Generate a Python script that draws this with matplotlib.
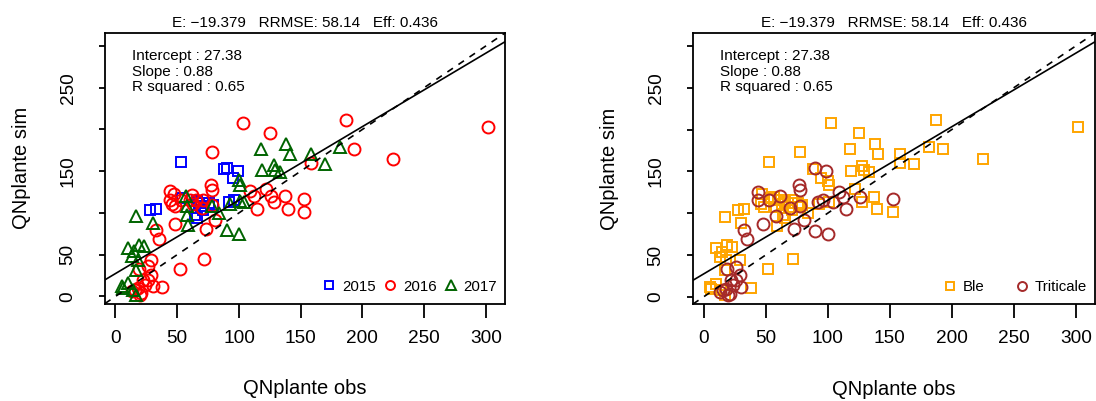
import matplotlib
matplotlib.use("Agg")
import matplotlib.pyplot as plt
from matplotlib.lines import Line2D

plt.rcParams['font.family'] = ['Liberation Sans', 'DejaVu Sans']

# ---------------- data (obs, sim, crop: B = Ble, T = Triticale) ----------------
obs_2015 = [53, 88, 90, 99, 95, 28, 33, 66, 68, 69, 71, 66, 64, 76, 79, 92, 96, 54]
sim_2015 = [161, 153, 154, 150, 142, 104, 105, 114, 112, 108, 104, 94, 98, 112, 110, 113, 116, 118]
crop_2015 = ['B', 'B', 'T', 'T', 'B', 'B', 'B', 'B', 'B', 'B', 'B', 'B', 'B', 'B', 'B', 'T', 'T', 'B']

obs_2016 = [103, 125, 187, 302, 78, 193, 225, 158, 153, 140, 137, 128, 122,
            153, 126, 115, 112, 109, 77, 78, 73, 81, 48, 33, 35,
            44, 47, 44, 46, 48.5, 53, 62, 60, 63, 65, 71,
            72, 52, 38, 29, 26, 70, 78,
            19, 29, 26, 22, 18, 16, 20, 21, 13, 24, 30]
sim_2016 = [208, 196, 211, 203, 173, 177, 165, 160, 101, 105, 120, 113, 129,
            117, 120, 105, 120, 126, 134, 128, 81, 92, 87, 80, 69,
            126, 123, 116, 111, 108, 116, 121, 116, 111, 116, 116,
            45, 33, 11, 44, 36, 106, 109,
            33, 26, 20, 20, 10, 8, 2, 4, 6, 14, 12]
crop_2016 = ['B', 'B', 'B', 'B', 'B', 'B', 'B', 'B', 'B', 'B', 'B', 'B', 'B',
             'T', 'T', 'T', 'T', 'T', 'T', 'T', 'T', 'T', 'T', 'T', 'T',
             'T', 'B', 'T', 'B', 'B', 'T', 'T', 'B', 'B', 'B', 'B',
             'B', 'B', 'B', 'B', 'T', 'T', 'T',
             'T', 'T', 'T', 'T', 'T', 'T', 'T', 'T', 'T', 'T', 'T']

obs_2017 = [118, 138, 141, 158, 182, 170, 119, 128, 129, 133, 100, 101,
            57, 58, 58, 59, 78, 84, 93, 101, 104, 90, 100,
            17, 30, 10, 15, 19, 23, 13, 18, 17, 6, 14, 10, 17, 5]
sim_2017 = [177, 183, 171, 171, 179, 159, 151, 157, 152, 149, 139, 134,
            120, 108, 97, 85, 108, 100, 111, 114, 113, 79, 75,
            96, 88, 58, 54, 62, 60, 48, 44, 32, 10, 8, 16, 2, 12]
crop_2017 = ['B', 'B', 'B', 'B', 'B', 'B', 'B', 'B', 'B', 'B', 'B', 'B',
             'B', 'B', 'T', 'B', 'B', 'B', 'B', 'B', 'T', 'T', 'T',
             'B', 'B', 'B', 'B', 'B', 'B', 'B', 'B', 'B', 'B', 'B', 'B', 'B', 'B']

years = ['2015', '2016', '2017']
crops = ['Ble', 'Triticale']

intercept = 27.38
slope = 0.88
r_squared = 0.65
stats_title = "E: \u221219.379   RRMSE: 58.14   Eff: 0.436"

x_ticks = [0, 50, 100, 150, 200, 250, 300]
y_ticks = [0, 50, 100, 150, 200, 250, 300]
y_ticklabels = ['0', '50', '', '150', '', '250', '']
lims = (-8.5, 315.5)

# ---------------- styling ----------------
year_style = {
    '2015': dict(marker='s', color='#0000FF', ms=7.6),
    '2016': dict(marker='o', color='#FF0000', ms=8.6),
    '2017': dict(marker='^', color='#006400', ms=9.2),
}
crop_style = {
    'Ble': dict(marker='s', color='#FFA500', ms=7.6),
    'Triticale': dict(marker='o', color='#A52A2A', ms=8.6),
}

W, H = 1096, 401
fig = plt.figure(figsize=(W / 100, H / 100), dpi=100)

def ax_rect(l, r, t, b):
    return [l / W, (H - b) / H, (r - l) / W, (b - t) / H]

axL = fig.add_axes(ax_rect(105, 505, 33, 303.5))
axR = fig.add_axes(ax_rect(693, 1095, 33, 304))

data = {
    '2015': (obs_2015, sim_2015, crop_2015),
    '2016': (obs_2016, sim_2016, crop_2016),
    '2017': (obs_2017, sim_2017, crop_2017),
}

# left panel: by year
for y in years:
    o, s, c = data[y]
    st = year_style[y]
    axL.plot(o, s, linestyle='none', marker=st['marker'], ms=st['ms'],
             mfc='none', mec=st['color'], mew=1.4)

# right panel: by crop
for cr in crops:
    code = cr[0]
    o_all, s_all = [], []
    for y in years:
        o, s, c = data[y]
        o_all += [oi for oi, ci in zip(o, c) if ci == code]
        s_all += [si for si, ci in zip(s, c) if ci == code]
    st = crop_style[cr]
    axR.plot(o_all, s_all, linestyle='none', marker=st['marker'], ms=st['ms'],
             mfc='none', mec=st['color'], mew=1.4)

for ax, panel_w in ((axL, 400), (axR, 402)):
    ax.set_xlim(lims)
    ax.set_ylim(lims)
    ax.axline((0, intercept), slope=slope, color='black', lw=1.2)
    ax.axline((0, 0), slope=1, color='black', lw=1.2, linestyle=(0, (4, 4)))
    for sp in ax.spines.values():
        sp.set_linewidth(1.3)
    ax.set_xticks(x_ticks)
    ax.set_xticklabels([str(v) for v in x_ticks])
    ax.set_yticks(y_ticks)
    ax.set_yticklabels(y_ticklabels, rotation=90, va='center')
    ax.tick_params(axis='x', direction='out', length=10, width=1.3, pad=9, labelsize=13.7)
    ax.tick_params(axis='y', direction='out', length=4.5, width=1.3, pad=16, labelsize=13.7)
    ax.set_xlabel('QNplante obs', fontsize=14.5, va='center')
    ax.xaxis.set_label_coords(0.5, (303.5 - 389) / 270.5)
    ax.set_ylabel('QNplante sim', fontsize=14.5, va='center')
    ax.yaxis.set_label_coords((22 - 105) / 400, 0.5)
    ax.text(0.5, 1 + (33 - 22.7) / 270.5, stats_title, transform=ax.transAxes,
            ha='center', va='center', fontsize=11)
    ax.text(26.7 / panel_w, 0.915, f"Intercept : {intercept:.2f}", transform=ax.transAxes,
            ha='left', va='center', fontsize=11)
    ax.text(26.7 / panel_w, 0.857, f"Slope : {slope:.2f}", transform=ax.transAxes,
            ha='left', va='center', fontsize=11)
    ax.text(26.7 / panel_w, 0.799, f"R squared : {r_squared:.2f}", transform=ax.transAxes,
            ha='left', va='center', fontsize=11)

hL = [Line2D([], [], linestyle='none', marker=year_style[y]['marker'], ms=year_style[y]['ms'] * 0.75,
             mfc='none', mec=year_style[y]['color'], mew=1.4) for y in years]
axL.legend(hL, years, loc='center right', bbox_to_anchor=(0.98, 0.062), ncol=3,
           frameon=False, fontsize=10.8, borderpad=0, borderaxespad=0,
           handlelength=0.8, handletextpad=0.45, columnspacing=0.55)

hR = [Line2D([], [], linestyle='none', marker=crop_style[c]['marker'], ms=crop_style[c]['ms'] * 0.75,
             mfc='none', mec=crop_style[c]['color'], mew=1.4) for c in crops]
axR.legend(hR, crops, loc='center right', bbox_to_anchor=(0.979, 0.062), ncol=2,
           frameon=False, fontsize=10.8, borderpad=0, borderaxespad=0,
           handlelength=0.8, handletextpad=0.45, columnspacing=2.1)

fig.savefig('out.png', dpi=100)
